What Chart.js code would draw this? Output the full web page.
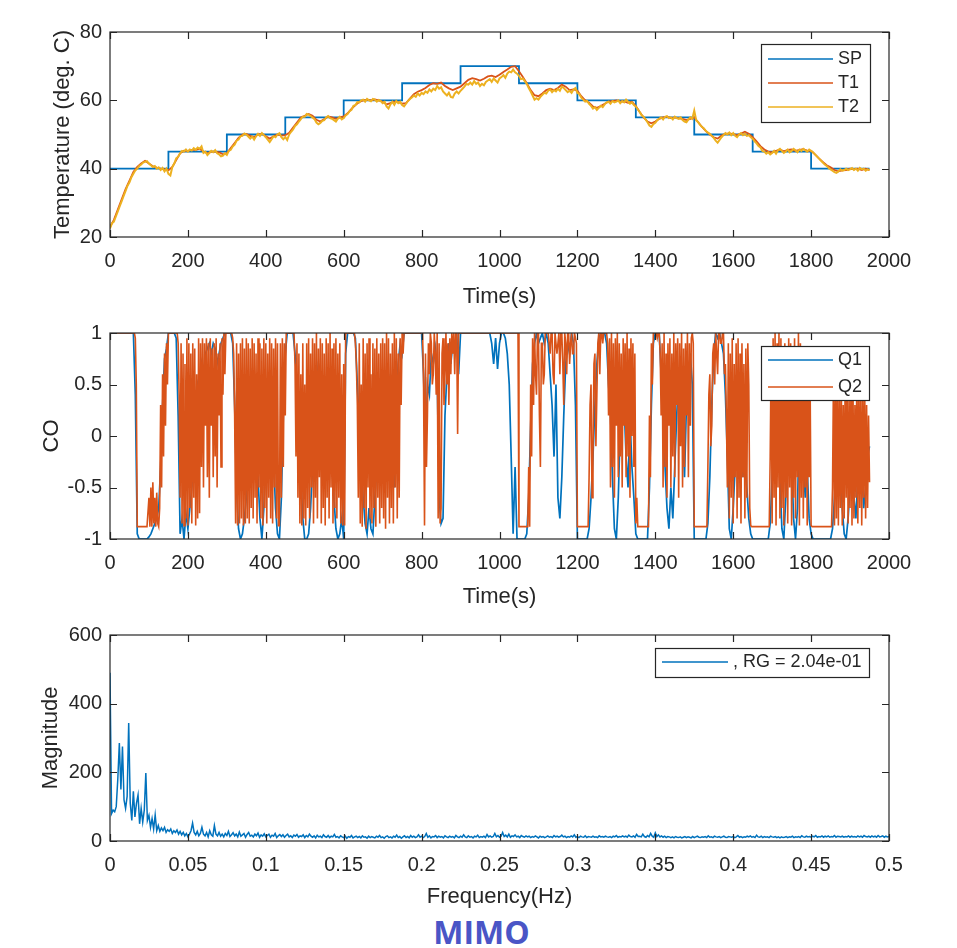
<!DOCTYPE html>
<html>
<head>
<meta charset="utf-8">
<title>MIMO</title>
<script src="https://cdn.jsdelivr.net/npm/chart.js@4.4.1/dist/chart.umd.min.js"></script>
<style>
  html, body { margin: 0; padding: 0; background: #fff; }
  #page { position: relative; width: 957px; height: 948px; overflow: hidden; background: #fff; }
  #page canvas { position: absolute; left: 0; }
  #c-temp { top: 0; }
  #c-co { top: 310px; }
  #c-fft { top: 610px; }
  #mimo {
    position: absolute; left: 3px; width: 957px; top: 910px;
    text-align: center; font: bold 32px "Open Sans", "Noto Sans", sans-serif;
    line-height: 1.36; color: #4a55c6;
  }
</style>
</head>
<body>
<div id="page">
  <canvas id="c-temp" width="957" height="310"></canvas>
  <canvas id="c-co" width="957" height="300"></canvas>
  <canvas id="c-fft" width="957" height="300"></canvas>
  <div id="mimo">MIMO</div>
</div>
<script>
// Datos (TCLab MIMO): temperaturas, salidas CO y espectro.

const T1_STEP = 10;     // s
const T2_STEP = 5;      // s
const Q1_STEP = 5;      // s
const Q2_STEP = 2.5;    // s
const FFT_STEP = 0.001; // Hz

const spTimes = [0, 150, 300, 450, 600, 750, 900, 1050, 1200, 1350, 1500, 1650, 1800, 1950];
const spValues = [40, 45, 50, 55, 60, 65, 70, 65, 60, 55, 50, 45, 40, 40];

const t1Values = [
  23, 25, 28, 31, 34, 36.5, 39, 40.5, 41.5, 42.3,
  41.5, 40.7, 40.3, 40, 39.8, 39.5, 40.5, 42.5, 44.5, 45.3,
  45.2, 45.5, 45.5, 45.8, 45, 44.5, 45, 45, 44.8, 44.2,
  44.5, 46, 47.5, 49, 50, 50.2, 49.6, 49.2, 50, 50.2,
  49.5, 48.8, 49.5, 50, 49.7, 49.8, 50.5, 52, 53.5, 55,
  55.5, 56, 55.5, 54.3, 53.8, 54.5, 55.3, 55, 54.6, 55,
  55.3, 56.2, 57.5, 58.6, 59.5, 60, 60.2, 60, 60.3, 60,
  59.6, 58.8, 59.2, 59.6, 59.5, 59, 59.2, 60.5, 61.8, 62.5,
  63, 63.6, 64.5, 65, 64.8, 65.2, 64.2, 63.5, 63, 63.5,
  64, 65, 66, 66.5, 66.2, 65.8, 66.3, 67, 67.2, 66.8,
  67.5, 68.3, 69, 69.8, 70, 68.5, 66.8, 65, 63, 61.5,
  61.2, 62, 63, 63.4, 63, 63.6, 64.6, 64, 63, 63.2,
  62.8, 61.2, 60, 59.3, 58.2, 57.8, 58.3, 59, 59.6, 59.8,
  60, 59.6, 59.7, 59.3, 59.6, 58.3, 56.6, 55, 53.8, 53.3,
  53.8, 54.6, 55, 55.2, 54.8, 55, 54.7, 54.6, 54.2, 54.6,
  55, 53.6, 52.2, 51, 50, 49.2, 48.8, 49.7, 50.2, 50.3,
  50.1, 49.8, 50.3, 50.8, 50.2, 49.2, 48, 46.6, 45.6, 45,
  44.8, 45.2, 45.6, 45.1, 45.5, 45.6, 45.2, 45.5, 45.7, 45.3,
  45.2, 44.2, 43, 42, 41, 40.4, 39.6, 39.2, 39.5, 39.6,
  40, 39.8, 40, 39.6, 40, 39.6
];

const t2Values = [
  22.5, 24, 24.5, 26, 27.5, 29, 30.5, 32, 33.5, 35, 36, 37.5, 38.5, 39.5, 40, 40.8, 41.2, 41.8, 42, 42.2,
  41.5, 41, 40.5, 40.8, 40, 40.4, 39.6, 40.2, 39.2, 40, 38.5, 38, 40.5, 41.5, 43, 43.5, 44.5, 45.2, 45, 45.6,
  45, 45.6, 45.3, 46, 45.5, 46.2, 45.8, 46.5, 44.6, 45, 44, 44.6, 45.2, 44.8, 45.4, 44.5, 44.2, 43.6, 43.8, 44.5,
  44, 45.2, 45.5, 46.5, 47, 48.2, 48.5, 49.5, 49.6, 50.3, 50, 49.4, 48.8, 49.4, 48.5, 49.5, 50.2, 49.6, 50.4, 49.8,
  49.2, 48.5, 47.8, 48.6, 49.5, 49.2, 50, 50.4, 49.2, 48.6, 49.3, 48.4, 50, 50.8, 51.5, 52.5, 53, 53.8, 54.5, 55.2,
  55.2, 56, 55.8, 55.4, 55, 54.5, 53.5, 53, 53.4, 54, 54.2, 55, 55.4, 54.8, 54.6, 54.2, 53.8, 54.6, 55.2, 54.4,
  54.8, 55.6, 56, 56.8, 57.2, 58.4, 58.6, 59.5, 59.4, 60, 60.2, 59.6, 60.4, 60, 59.7, 60.4, 60.2, 59.6, 60.1, 59.8,
  59.2, 59.6, 58.2, 57.6, 58.8, 59.6, 58.7, 59.8, 59.2, 59.6, 58.6, 58.2, 59, 59.8, 60.4, 60.8, 61.4, 61, 62, 61.4,
  62.2, 61.8, 62.6, 62.2, 63.2, 62.6, 63.4, 63, 64.2, 63.4, 63.8, 62.6, 62, 61.4, 62.2, 61, 60.8, 62, 62.6, 62,
  62.8, 63.4, 64, 64.8, 64.6, 65.2, 64.6, 65.6, 64.8, 65.2, 64.2, 64.8, 64.4, 65.4, 65.8, 66.2, 65.4, 66.4, 65.8, 65.2,
  66.4, 66.8, 67.4, 66.6, 67.8, 68.4, 68.2, 69, 68.2, 67.8, 67.2, 66.2, 66.4, 65.6, 64.8, 63.6, 62.6, 61.4, 60.2, 60.6,
  60.2, 61, 61.6, 62.2, 62, 62.8, 63.2, 62.4, 63, 62.6, 63.4, 62.8, 64, 63.6, 63, 62.4, 62.8, 62.2, 63.2, 63.6,
  62.2, 61.8, 60.8, 60.2, 59.6, 59.8, 59, 58.4, 57.6, 58, 57.2, 57.8, 58.4, 58, 58.8, 59.4, 59.6, 59, 59.8, 59.4,
  59.6, 60, 59.2, 59.8, 59.4, 60.2, 59.6, 59, 59.4, 58.6, 58.2, 57.4, 56.6, 55.6, 55.2, 54.4, 53.6, 52.6, 52.2, 53,
  53.4, 54.2, 54.6, 55, 54.4, 55.2, 55.4, 54.8, 55, 54.4, 55.2, 54.8, 54.6, 55, 54.2, 53.8, 53.6, 54.4, 55, 54.6,
  57, 54.2, 53.6, 52.8, 52.2, 51.8, 51, 50.6, 50.2, 49.6, 49, 48.2, 47.6, 48.4, 49.2, 49.8, 50.4, 50, 50.6, 49.8,
  50.4, 49.6, 49.2, 50, 50.4, 49.8, 50.2, 49.6, 49.8, 49.2, 48.8, 48, 47.4, 46.6, 46.2, 45.2, 45, 44.4, 44.8, 44.2,
  44.6, 45.2, 44.4, 45.4, 45.8, 45.2, 44.6, 45, 45.6, 44.8, 45.2, 45.8, 45.4, 44.8, 45.6, 45.2, 45.8, 45.4, 45, 45.6,
  45.2, 44.8, 44.2, 43.6, 43, 42.4, 41.8, 41.2, 40.8, 40.2, 39.8, 39.4, 39, 38.8, 39.2, 39.8, 39.4, 39.6, 40, 39.6,
  39.8, 40.2, 39.6, 40, 39.4, 40.2, 39.8, 40, 39.4, 39.8, 39.6
];

const q1Values = [
  1, 1, 1, 1, 1, 1, 1, 1, 1, 1, 1, 1, 1,
  0.4, -0.95,
  -1, -1, -1, -1, -1,
  -0.98, -0.95, -0.9, -0.85, -0.8, -0.7,
  -0.3, 0.3, 0.75, 0.85,
  1, 1, 1, 1, 0.95, 0.2,
  -0.95, -0.8, -1, -0.75, -0.9, -0.7, -0.5, -0.2, 0.3, 0.5, 0.4,
  0.7, 0.6, 0.8, 0.85, 0.9, 0.8, 0.9, 0.85, 0.7, 0.8, 0.9, 0.95, 1,
  1, 1, 1, 0.9,
  0.3, -0.5, -0.9, -1, -0.95, -0.8,
  -0.6, -0.2, 0.3, 0.6, 0.5, 0.2, -0.4, -0.8, -1, -0.7, -0.2, 0.4, 0.6, 0.3, -0.2, -0.7, -0.95,
  -1, -0.6, 0.2, 0.8,
  1, 1, 1, 1,
  0.8, 0.5, 0.1, -0.4, -0.8, -1,
  -1, -0.95, -0.7, -0.3, 0.2, 0.5, 0.7, 0.6, 0.3, -0.1, 0.4, 0.6, 0.2, -0.3, -0.6, -0.9, -1, -0.95, -0.8, -1,
  0.8, 1, 1, 1, 1, 0.95,
  0.5, 0.1, -0.3, -0.6, -0.85, -0.95, -0.7, -0.9, -0.95, -0.6, -0.3, 0.2, 0.5, 0.3,
  0.1, -0.4, 0.3, 0.6, 0.2, -0.5, 0.4, 0.7, 0.9, 0.8,
  1, 1, 1, 1, 1, 1, 1, 1, 1, 1,
  0.6, -0.25, 0.5, 0.4, 0.8,
  0.7, 0.85, 0.6, -0.6, -0.85, -0.8, 0.2, 0.6, 0.9, 0.7, 0.9, 0.8, 1, 0.6,
  1, 1, 1, 1, 1, 1, 1, 1, 1, 1, 1, 1, 1, 1, 1, 1,
  0.9, 0.7, 0.95, 0.65, 0.9, 1, 1, 0.95, 0.8, 0.5, -0.2, -0.95, -0.3, -1,
  -1,
  -1, -1, -1, -0.95,
  -0.6, 0.1, 0.7,
  0.9, 1, 0.9, 0.95, 1, 0.9, 1,
  0.9, 0.6, 0.3, -0.2, 0.5, -0.6, -0.8, -0.4, 0.2, 0.7, 0.9, 0.8, 1, 0.9, 0.3,
  -1, -1, -1, -1, -1, -1,
  -0.9, -0.6, -0.2, 0.3, 0.7, 0.95,
  1, 1, 1, 0.9,
  0.5, 0.2, -0.4, -0.9, -1, -0.6, 0.1, 0.5, 0.3, -0.2, -0.5, 0.2, -0.3, -0.6, -0.95,
  -1, -1, -1, -1, -1, -1,
  -0.5, 0.3, 0.9, 1, 1, 1,
  0.6, 0.2, -0.3, -0.7, -0.9, -0.5, -0.8, -0.3, 0.2, 0.6, 0.4, 0.1, -0.4, 0.3, 0.6, 0.8, 0.5,
  -1, -1, -1, -1, -1, -1, -1,
  -0.85, -0.4, 0.3, 0.8,
  1, 0.95, 1, 0.9, 0.8, 0.4,
  -0.2, -0.9, -1, -0.7, -0.3, 0.2, 0.5, 0.1, -0.4, -0.1, -0.5, -0.8, -0.95,
  -1, -1, -1, -1, -1, -1, -1, -1, -1,
  -0.85, -0.4, 0.2, 0.6, 0.3, -0.4, -0.9, -1, -0.6, 0.1, 0.5, -0.2, -0.8, -1, -0.7, 0.2, 0.4, -0.3,
  -0.6, -0.3, -0.8, -0.95,
  -1, -1, -1, -1, -1, -1, -1, -1, -1, -1,
  -0.9, -0.6, -0.3, 0.1, -0.2, -0.7, -0.95, -1, -0.8, -0.5, -0.2, -0.6, -0.8, -0.4, 0.1, -0.3, -0.7, -0.5, -0.2, -0.1
];

const q2Values = [
  // 0-62.5 s
  1, 1, 1, 1, 1, 1, 1, 1, 1, 1, 1, 1, 1, 1, 1, 1, 1, 1, 1, 1, 1, 1, 1, 1, 1, 1,
  0.95, 0.5, -0.88, -0.88,
  -0.88, -0.88, -0.88, -0.88, -0.88, -0.88, -0.88, -0.88, -0.88, -0.88,
  -0.6, -0.88, -0.5, -0.88, -0.45, -0.85, -0.6, -0.88, -0.55, -0.85, -0.88, -0.7,
  0.3, -0.5, 0.6, -0.2, 0.8, 0.1, 0.9, 0.5,
  1, 1, 1, 1, 1, 1, 1, 1, 1, 1, 0.9, 0.4,
  // 180 s
  -0.6, 0.9, -0.85, 0.8, -0.87, 0.7, -0.8, 0.95, -0.87, 0.9, -0.7, 0.8, -0.85, 0.9, -0.6, 0.85, -0.87, 0.6, -0.8, 0.95, -0.75, 0.9,
  -0.3, 0.95, -0.5, 0.9, 0.1, 0.95, -0.4, 0.9, -0.6, 0.95, 0.1, 0.85, -0.4, 0.9, -0.2, 0.95, -0.5, 0.8, 0.2, 0.9, -0.3, 0.95, 0.4, 1, 0.6, 1,
  1, 1, 1, 1, 1, 1, 0.95, 0.8,
  0.2, -0.85, 0.9, -0.87, 0.8, -0.85, 0.9, -0.8, 0.95, -0.87, 0.85, -0.85,
  // 350 s
  0.95, -0.8, 0.9, -0.85, 0.85, -0.7, 0.95, -0.8, 0.9, -0.6, 0.8, -0.85, 0.95, -0.5, 0.9, -0.8, 0.85,
  -0.87, 0.95, -0.7, 0.9, -0.85, 0.8, -0.6, 0.95, -0.8, 0.9, -0.85, 0.85, -0.5, 0.95, -0.8, 0.9, -0.87,
  -0.87, 0.9, -0.6, 0.95, -0.3, 0.9, 0.2, 1,
  1, 1, 1, 1, 1, 1, 1, 1,
  0.7, -0.2, 0.9, -0.6, 0.8, -0.85, 0.6, -0.87, 0.9, -0.8, 0.5, -0.87,
  // 505 s
  0.9, -0.7, 0.95, -0.8, 0.8, -0.5, 0.95, -0.85, 0.9, -0.6, 1, -0.8, 0.85, -0.4, 0.95, -0.85, 0.9, -0.7, 0.8, -0.87,
  0.95, -0.6, 0.9, -0.8, 1, -0.5, 0.85, -0.85, 0.9, -0.7, 0.95, -0.8, 0.8, -0.6, 0.9, -0.85, 0.6, -0.87, 0.7, -0.87,
  1, 1, 1, 1, 1, 1, 1, 1, 1, 1, 0.9, 0.7,
  // 635 s
  0.3, -0.6, 0.9, -0.85, 0.5, -0.88, 0.95, -0.7, 0.8, -0.9, 0.9, -0.5, 0.95, -0.8,
  0.6, -0.85, 0.9, -0.7, 0.85, -0.88, 0.95, -0.6, 0.8, -0.85, 0.9, -0.7, 0.95, -0.8,
  0.9, -0.9, 1, -0.6, 0.95, -0.85, 0.8, -0.7, 0.9, -0.85, 1, -0.5, 0.95, -0.8, 0.8, -0.6, 0.95, 0.3, 1, 0.8,
  1, 1, 1, 1, 1, 1, 1, 1, 1, 1, 1, 1, 1, 1, 1, 1, 1, 1, 1, 1,
  // 805 s
  0.5, -0.87, 0.8, -0.3, 0.2, 0.9, 0.6, 1, 0.9, 0.5,
  0.6, 1, 0.8, 0.4, 1, -0.8, 0.9, -0.85, -0.7, 0.8, 0.95, 0.3, 0.6, 1, 0.5, 0.9, 0.3, 0.95, 0.6, 1, 0.8, 1, 0.6, 1, 1, 0.02, 1, 1,
  // 900 s
  1, 1, 1, 1, 1, 1, 1, 1, 1, 1, 1, 1, 1, 1, 1, 1, 1, 1, 1, 1, 1, 1, 1, 1, 1, 1, 1, 1, 1, 1,
  1, 1, 1, 1, 1, 1, 1, 1, 1, 1, 1, 1, 1, 1, 1, 1, 1, 1, 1, 1, 1, 1, 1, 1, 1, 1, 1, 1, 1, 1,
  // 1050 s
  -0.88, -0.88,
  -0.88, -0.88, -0.88, -0.88, -0.88, -0.88, -0.88, -0.88,
  -0.3, -0.88, 0.5, -0.2, 0.95, 0.3,
  1, 0.6, 0.4, 1, 1, 0.2, -0.3, 0.9, 0.9, 0.5, 0.6, 1, 1, 1,
  1, 0.9, 0.8, 1, 1, 0.6, 0.5, 1, 1, 0.8, 0.9, 1, 0.6, 1, 1, 0.7, 0.3, 1, 0.9, 0.6, 1, 1, 0.7, 0.9, 1, 0.8, 0.8, 1, 0.95, 0.9,
  // 1200 s
  -0.88, -0.88, -0.88, -0.88, -0.88, -0.88, -0.88, -0.88, -0.88, -0.88, -0.88, -0.88,
  -0.4, 0.3, 0.5, -0.6, -0.2, 0.7, 0.8, -0.1, 0.4, 0.9, 1, 0.6,
  1, 1, 0.9, 1, 1, 1, 1, 0.9,
  0.2, 0.95, -0.5, 1, -0.3, 0.9, -0.6, 0.95, 0.1, 1, -0.4, 0.9, -0.2, 0.8, -0.5,
  0.95, 0.1, 0.9, -0.4, 1, -0.2, 0.85, -0.6, 0.95, 0, 0.9, -0.3, 0.8, -0.85, -0.6,
  // 1355 s
  -0.88, -0.88, -0.88, -0.88, -0.88, -0.88, -0.88, -0.88, -0.88, -0.88, -0.88, -0.88,
  0.2, -0.4, 0.9, 0.5, 1, 1, 1, 1, 0.95, 1, 1, 0.8,
  0.2, 0.9, -0.5, 1, -0.3, 0.8, -0.6, 0.9, 0.1, 0.95, -0.5, 0.8, -0.2, 1, -0.4, 0.9, 0.3,
  0.95, -0.6, 0.9, -0.1, 1, -0.5, 0.85, -0.3, 0.9, 0.2, 1, -0.4, 0.9, 0.1, 0.95, 1, 0.9,
  // 1500 s
  -0.88, -0.88, -0.88, -0.88, -0.88, -0.88, -0.88, -0.88, -0.88, -0.88, -0.88, -0.88, -0.88, -0.88,
  -0.3, 0.4, 0.6, -0.1, 0.1, 0.8, 0.9, 0.5,
  1, 0.8, 0.6, 1, 1, 0.9, 0.9, 1, 1, 0.6, 0.7, 0.2,
  -0.5, 0.9, -0.8, 0.8, -0.6, 0.95, -0.85, 0.7, -0.4, 0.9, -0.8, 0.95, -0.6, 0.8, -0.85, 0.9, -0.4, 0.7, -0.8, 0.85, -0.6, 0.9, 0.5, -0.7, -0.87, -0.88,
  // 1650 s
  -0.88, -0.88, -0.88, -0.88, -0.88, -0.88, -0.88, -0.88, -0.88, -0.88, -0.88, -0.88, -0.88, -0.88, -0.88, -0.88, -0.88, -0.88,
  -0.2, 0.8, -0.85, 0.95, -0.6, 1, -0.87, 0.9, -0.5, 1, -0.8, 0.95, -0.7, 0.6, -0.87, 0.9, -0.6, 0.8,
  -0.85, 0.95, -0.5, 0.9, -0.87, 0.7, -0.6, 0.95, -0.8, 0.85, -0.4, 1, -0.87, 0.9, -0.6, 0.8, -0.8, 0.7,
  -0.5, 0.7, -0.87, 0.6, -0.4, 0.5, -0.87, -0.88,
  // 1805 s
  -0.88, -0.88, -0.88, -0.88, -0.88, -0.88, -0.88, -0.88, -0.88, -0.88, -0.88, -0.88, -0.88, -0.88, -0.88, -0.88, -0.88, -0.88, -0.88, -0.88,
  -0.5, 0.6, -0.87, 0.5, -0.8, 0.6, -0.87, 0.4, -0.7, 0.55, -0.87, 0.3, -0.8, 0.6, -0.6, 0.5, -0.85, 0.4, -0.7, 0.55,
  -0.87, 0.5, -0.8, 0.3, -0.6, 0.6, -0.85, 0.45, -0.7, 0.5, -0.87, 0.4, -0.6, 0.55, -0.8, 0.3, -0.7, 0.2, -0.45
];

const fftMagnitude = [
  490, 80, 90, 85, 100, 180, 285, 150, 275, 120,
  95, 130, 344, 110, 60, 145, 70, 110, 134, 50,
  95, 55, 90, 198, 60, 75, 40, 65, 35, 76,
  30, 45, 28, 38, 30, 40, 25, 33, 28, 35,
  22, 30, 25, 32, 20, 28, 18, 25, 15, 22,
  12, 20, 30, 52, 25, 18, 28, 15, 22, 40,
  20, 15, 25, 12, 30, 18, 14, 45, 20, 15,
  25, 14, 20, 12, 22, 16, 28, 13, 18, 24,
  15, 20, 12, 26, 14, 18, 22, 11, 19, 25,
  14, 17, 12, 20, 15, 23, 11, 18, 14, 21,
  12, 16, 20, 11, 17, 14, 22, 10, 15, 19,
  13, 18, 11, 16, 20, 12, 15, 10, 17, 14,
  19, 11, 15, 13, 18, 10, 16, 12, 20, 14,
  11, 15, 9, 17, 12, 14, 10, 18, 13, 11,
  16, 10, 14, 12, 19, 11, 13, 9, 15, 12,
  10, 14, 8, 13, 11, 16, 9, 12, 14, 10,
  13, 9, 15, 11, 12, 8, 14, 10, 13, 11,
  9, 14, 11, 16, 10, 12, 8, 13, 15, 10,
  12, 9, 14, 11, 17, 10, 13, 8, 12, 15,
  10, 13, 9, 16, 11, 14, 10, 12, 18, 11,
  14, 10, 13, 22, 11, 15, 9, 13, 12, 16,
  10, 14, 11, 13, 9, 15, 12, 10, 14, 11,
  13, 9, 16, 12, 10, 14, 11, 18, 12, 10,
  15, 11, 13, 9, 14, 12, 17, 10, 13, 11,
  14, 10, 19, 12, 15, 11, 13, 22, 12, 16,
  11, 14, 25, 13, 17, 12, 20, 11, 15, 13,
  18, 12, 14, 10, 16, 13, 11, 15, 12, 14,
  10, 13, 11, 15, 12, 9, 14, 11, 13, 10,
  12, 15, 11, 13, 10, 16, 12, 14, 11, 13,
  17, 12, 14, 10, 13, 11, 15, 12, 18, 11,
  13, 10, 14, 12, 11, 15, 10, 13, 12, 11,
  14, 11, 12, 10, 15, 12, 13, 11, 14, 12,
  11, 13, 10, 14, 12, 16, 11, 13, 12, 15,
  12, 14, 11, 17, 13, 12, 15, 11, 19, 13,
  14, 12, 20, 13, 11, 16, 12, 22, 14, 11,
  24, 13, 18, 12, 15, 11, 14, 10, 13, 12,
  10, 12, 9, 13, 11, 10, 12, 9, 11, 13,
  10, 12, 11, 9, 13, 10, 12, 14, 11, 10,
  12, 11, 13, 10, 15, 11, 12, 10, 14, 12,
  11, 13, 10, 12, 14, 11, 10, 13, 12, 11,
  13, 10, 12, 16, 11, 13, 10, 12, 11, 14,
  12, 15, 11, 13, 10, 17, 12, 11, 14, 10,
  13, 11, 12, 10, 14, 12, 11, 13, 10, 12,
  9, 12, 10, 11, 13, 10, 12, 11, 14, 10,
  12, 11, 13, 10, 15, 12, 11, 14, 12, 13,
  11, 14, 12, 16, 11, 13, 12, 15, 11, 14,
  12, 15, 11, 13, 12, 16, 11, 14, 13, 12,
  14, 11, 13, 12, 15, 11, 14, 12, 13, 11,
  15, 12, 14, 11, 16, 13, 12, 14, 11, 15,
  12, 14, 11, 16, 12, 13, 15, 11, 14, 12,
  13
];

const BLUE = "#0072BD";
const ORANGE = "#D95319";
const YELLOW = "#EDB120";
const AXIS_COLOR = "#262626";
const FONT = "'Liberation Sans', Arial, Helvetica, sans-serif";

Chart.defaults.font.family = FONT;
Chart.defaults.color = AXIS_COLOR;

function sampled(values, step) {
  return values.map((v, i) => ({ x: +(i * step).toFixed(4), y: v }));
}

function paired(xs, ys) {
  return xs.map((x, i) => ({ x, y: ys[i] }));
}

const fmt = (v) => String(Math.round(v * 1000) / 1000);

// Caja estilo MATLAB con ticks hacia dentro en los cuatro lados + leyenda con borde
const matlabAxes = {
  id: "matlabAxes",
  afterDraw(chart, args, opts) {
    const { ctx, chartArea: a, scales } = chart;
    const len = 7;
    ctx.save();
    ctx.strokeStyle = AXIS_COLOR;
    ctx.lineWidth = 1.2;
    ctx.beginPath();
    scales.x.ticks.forEach((t) => {
      const px = Math.round(scales.x.getPixelForValue(t.value)) + 0.5;
      ctx.moveTo(px, a.bottom);
      ctx.lineTo(px, a.bottom - len);
      ctx.moveTo(px, a.top);
      ctx.lineTo(px, a.top + len);
    });
    scales.y.ticks.forEach((t) => {
      const py = Math.round(scales.y.getPixelForValue(t.value)) + 0.5;
      ctx.moveTo(a.left, py);
      ctx.lineTo(a.left + len, py);
      ctx.moveTo(a.right, py);
      ctx.lineTo(a.right - len, py);
    });
    ctx.stroke();
    ctx.strokeRect(a.left, a.top, a.right - a.left, a.bottom - a.top);

    const lg = opts.legend;
    if (lg) {
      ctx.fillStyle = "#fff";
      ctx.fillRect(lg.left, lg.top, lg.width, lg.height);
      ctx.strokeStyle = AXIS_COLOR;
      ctx.lineWidth = 1.2;
      ctx.strokeRect(lg.left + 0.5, lg.top + 0.5, lg.width, lg.height);
      ctx.font = "18px " + FONT;
      ctx.textBaseline = "middle";
      chart.data.datasets.forEach((ds, i) => {
        const y = lg.top + lg.first + i * lg.gap;
        ctx.strokeStyle = ds.borderColor;
        ctx.lineWidth = 1.5;
        ctx.beginPath();
        ctx.moveTo(lg.lineX0, y);
        ctx.lineTo(lg.lineX1, y);
        ctx.stroke();
        ctx.fillStyle = AXIS_COLOR;
        ctx.fillText(ds.label, lg.textX, y);
      });
    }
    ctx.restore();
  },
};

function axes(o) {
  return {
    x: {
      type: "linear",
      min: o.xMin, max: o.xMax,
      grid: { display: false, drawTicks: false },
      border: { display: false },
      ticks: { stepSize: o.xStep, padding: 12, autoSkip: false, maxRotation: 0, font: { size: 20 }, callback: fmt },
      title: { display: true, text: o.xTitle, font: { size: 22 }, padding: { top: o.xTitlePad, bottom: 0 } },
      afterFit: (s) => { s.height = o.xHeight; },
    },
    y: {
      type: "linear",
      min: o.yMin, max: o.yMax,
      grid: { display: false, drawTicks: false },
      border: { display: false },
      ticks: { stepSize: o.yStep, padding: 8, font: { size: 20 }, callback: fmt },
      title: { display: true, text: o.yTitle, font: { size: 22 }, padding: { top: o.yTitlePad, bottom: 0 } },
      afterFit: (s) => { s.width = 110; },
    },
  };
}

function baseOptions(o, legend) {
  return {
    responsive: false,
    animation: false,
    devicePixelRatio: 1,
    layout: { padding: { top: o.top, right: 68, left: 0, bottom: 0 } },
    elements: { point: { radius: 0 }, line: { tension: 0 } },
    plugins: { legend: { display: false }, tooltip: { enabled: false }, matlabAxes: { legend } },
    scales: axes(o),
  };
}

function initTemperature() {
  new Chart(document.getElementById("c-temp"), {
    type: "line",
    data: {
      datasets: [
        { label: "SP", data: paired(spTimes, spValues), borderColor: BLUE, borderWidth: 1.8, stepped: true, order: 2 },
        { label: "T1", data: sampled(t1Values, T1_STEP), borderColor: ORANGE, borderWidth: 1.8, order: 1 },
        { label: "T2", data: sampled(t2Values, T2_STEP), borderColor: YELLOW, borderWidth: 2, order: 0 },
      ],
    },
    options: baseOptions(
      { top: 32, xHeight: 73, xMin: 0, xMax: 2000, xStep: 200, yMin: 20, yMax: 80, yStep: 20,
        xTitle: "Time(s)", yTitle: "Temperature (deg. C)", xTitlePad: 10, yTitlePad: 50 },
      { left: 761, top: 44, width: 109, height: 78, first: 15, gap: 24, lineX0: 768, lineX1: 833, textX: 838 }
    ),
    plugins: [matlabAxes],
  });
}

function initCO() {
  new Chart(document.getElementById("c-co"), {
    type: "line",
    data: {
      datasets: [
        { label: "Q1", data: sampled(q1Values, Q1_STEP), borderColor: BLUE, borderWidth: 1.7, order: 1 },
        { label: "Q2", data: sampled(q2Values, Q2_STEP), borderColor: ORANGE, borderWidth: 1.6, order: 0 },
      ],
    },
    options: baseOptions(
      { top: 23, xHeight: 71, xMin: 0, xMax: 2000, xStep: 200, yMin: -1, yMax: 1, yStep: 0.5,
        xTitle: "Time(s)", yTitle: "CO", xTitlePad: 6, yTitlePad: 39 },
      { left: 761, top: 36, width: 108, height: 54, first: 14, gap: 27, lineX0: 768, lineX1: 833, textX: 838 }
    ),
    plugins: [matlabAxes],
  });
}

function initFFT() {
  new Chart(document.getElementById("c-fft"), {
    type: "line",
    data: {
      datasets: [
        { label: ", RG = 2.04e-01", data: sampled(fftMagnitude, FFT_STEP), borderColor: BLUE, borderWidth: 1.5 },
      ],
    },
    options: baseOptions(
      { top: 25, xHeight: 69, xMin: 0, xMax: 0.5, xStep: 0.05, yMin: 0, yMax: 600, yStep: 200,
        xTitle: "Frequency(Hz)", yTitle: "Magnitude", xTitlePad: 3, yTitlePad: 38 },
      { left: 655, top: 38, width: 214, height: 29, first: 14, gap: 0, lineX0: 662, lineX1: 728, textX: 733 }
    ),
    plugins: [matlabAxes],
  });
}

initTemperature();
initCO();
initFFT();
</script>
</body>
</html>
